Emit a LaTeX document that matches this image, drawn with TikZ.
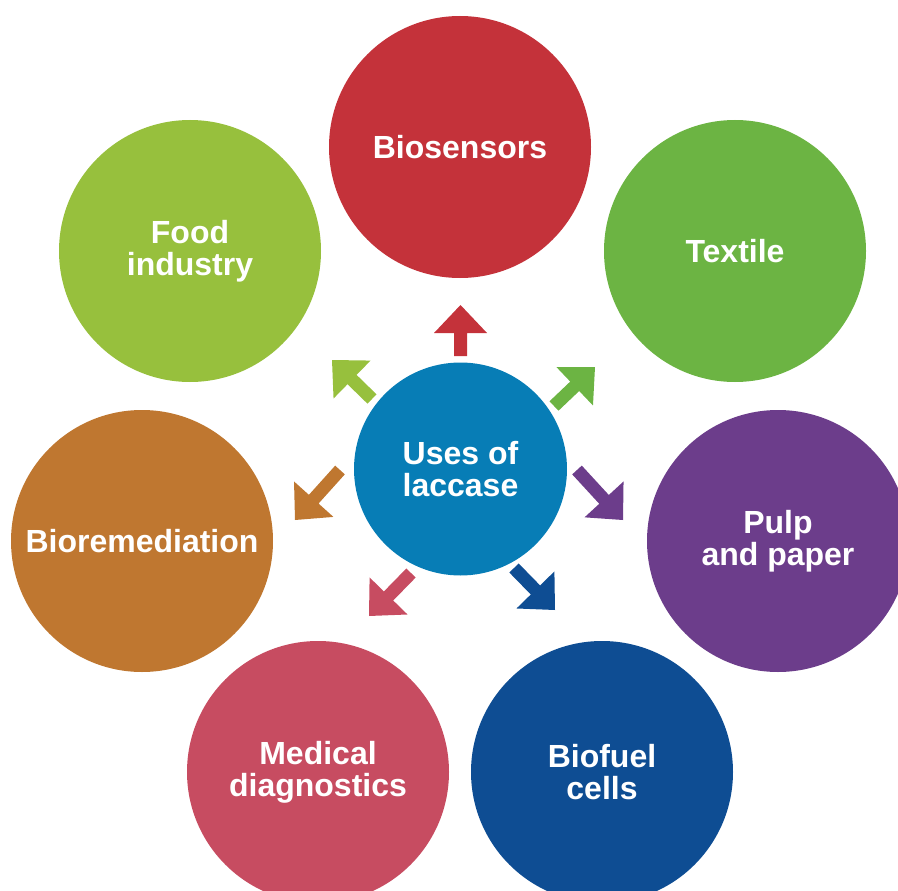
\documentclass[tikz,border=0pt]{standalone}
\usepackage{fontspec}
\setmainfont{Liberation Sans}
\usetikzlibrary{calc}

\definecolor{hubblue}{HTML}{077DB6}
\definecolor{sensred}{HTML}{C4323A}
\definecolor{textgreen}{HTML}{6CB443}
\definecolor{foodgreen}{HTML}{97C03D}
\definecolor{pulppurple}{HTML}{6C3D8B}
\definecolor{remedorange}{HTML}{BF7730}
\definecolor{medpink}{HTML}{C74C61}
\definecolor{fuelblue}{HTML}{0E4D93}

\tikzset{
  usecircle/.style={circle, fill=#1, minimum size=262pt, inner sep=0pt,
    text=white, align=center, font=\bfseries\fontsize{32}{32}\selectfont},
  hubcircle/.style={circle, fill=hubblue, minimum size=213pt, inner sep=0pt,
    text=white, align=center, font=\bfseries\fontsize{32}{32}\selectfont}
}

% block arrow from tail #2 to tip #3, filled with colour #1
\newcommand\lacarrow[3]{%
  \coordinate (hb) at ($(#3)!28pt!(#2)$);
  \fill[#1] ($(#2)!6.5pt!90:(#3)$) -- ($(hb)!6.5pt!90:(#3)$)
    -- ($(hb)!26.5pt!90:(#3)$) -- (#3) -- ($(hb)!26.5pt!-90:(#3)$)
    -- ($(hb)!6.5pt!-90:(#3)$) -- ($(#2)!6.5pt!-90:(#3)$) -- cycle;}

\begin{document}
\begin{tikzpicture}[x=1pt,y=-1pt]
\path[clip] (0,0) rectangle (898,891);

% outer application circles
\node[usecircle=sensred]     (bio)   at (460,147) {Biosensors};
\node[usecircle=textgreen]   (tex)   at (735,251) {Textile};
\node[usecircle=pulppurple]  (pulp)  at (778,541) {Pulp\\and paper};
\node[usecircle=fuelblue]    (fuel)  at (602,772) {Biofuel\\cells};
\node[usecircle=medpink]     (med)   at (318,772) {Medical\\diagnostics};
\node[usecircle=remedorange] (rem)   at (142,541) {Bioremediation};
\node[usecircle=foodgreen]   (food)  at (190,251) {Food\\industry};

% central circle
\node[hubcircle] (hub) at (460.5,469) {Uses of\\laccase};

% arrow tails and tips
\coordinate (bioT)  at (460.5,356); \coordinate (bioH)  at (460.5,305);
\coordinate (texT)  at (554,406);   \coordinate (texH)  at (595,367);
\coordinate (pulpT) at (577,470);   \coordinate (pulpH) at (623,520);
\coordinate (fuelT) at (514,568);   \coordinate (fuelH) at (555,610);
\coordinate (medT)  at (411,573);   \coordinate (medH)  at (369,616);
\coordinate (remT)  at (340,470);   \coordinate (remH)  at (295,520);
\coordinate (foodT) at (372,399);   \coordinate (foodH) at (332,360);

\lacarrow{sensred}{bioT}{bioH}
\lacarrow{textgreen}{texT}{texH}
\lacarrow{pulppurple}{pulpT}{pulpH}
\lacarrow{fuelblue}{fuelT}{fuelH}
\lacarrow{medpink}{medT}{medH}
\lacarrow{remedorange}{remT}{remH}
\lacarrow{foodgreen}{foodT}{foodH}
\end{tikzpicture}
\end{document}
